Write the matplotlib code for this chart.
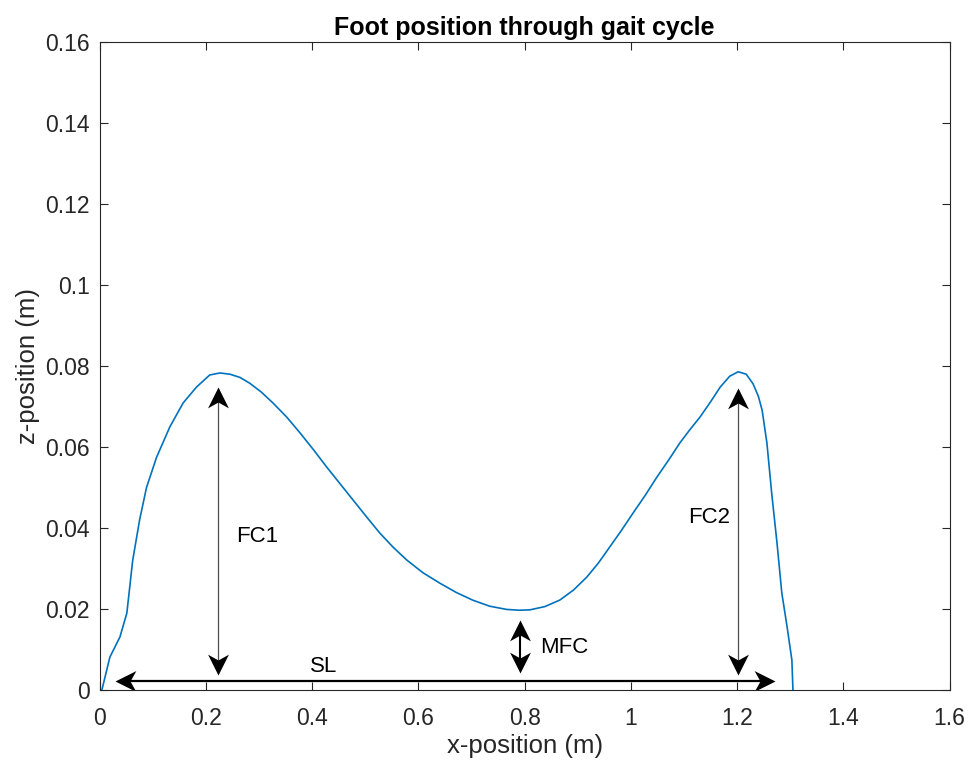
import numpy as np
import matplotlib
matplotlib.use('Agg')
from matplotlib import pyplot as plt
from matplotlib.path import Path
from matplotlib.transforms import Affine2D

plt.rcParams['font.family'] = ['Liberation Sans', 'DejaVu Sans']

# foot trajectory (x, z in m)
x_pos = [0.0, 0.004, 0.019, 0.038, 0.051, 0.062, 0.075, 0.088, 0.107, 0.132,
         0.157, 0.182, 0.207, 0.226, 0.245, 0.264, 0.282, 0.304, 0.326, 0.352,
         0.377, 0.402, 0.427, 0.452, 0.477, 0.502, 0.527, 0.552, 0.578, 0.608,
         0.640, 0.671, 0.702, 0.734, 0.766, 0.790, 0.81, 0.838, 0.866, 0.892,
         0.917, 0.939, 0.960, 0.982, 1.004, 1.027, 1.049, 1.071, 1.092, 1.111,
         1.130, 1.150, 1.168, 1.186, 1.202, 1.217, 1.230, 1.240, 1.247, 1.256,
         1.265, 1.275, 1.284, 1.294, 1.303, 1.305]
z_pos = [0.0, 0.0, 0.0081, 0.0131, 0.0190, 0.0320, 0.0420, 0.0500, 0.0575, 0.0650,
         0.0709, 0.0748, 0.0778, 0.0783, 0.0780, 0.0772, 0.0758, 0.0736, 0.0709, 0.0674,
         0.0635, 0.0594, 0.0551, 0.0510, 0.0469, 0.0428, 0.0388, 0.0353, 0.0321, 0.0290,
         0.0264, 0.0241, 0.0222, 0.0207, 0.0199, 0.0197, 0.0198, 0.0206, 0.0222, 0.0247,
         0.0279, 0.0314, 0.0353, 0.0394, 0.0437, 0.0481, 0.0526, 0.0568, 0.0610, 0.0643,
         0.0674, 0.0712, 0.0748, 0.0775, 0.0786, 0.0780, 0.0756, 0.0725, 0.0691, 0.0610,
         0.0486, 0.0363, 0.0240, 0.0156, 0.0074, 0.0]

# vertical double arrows
vert_labels = ['FC1', 'MFC', 'FC2']
vert_x = [0.223, 0.791, 1.201]
vert_lo = [0.0037, 0.0042, 0.0038]
vert_hi = [0.0748, 0.0173, 0.0746]
vert_text_x = [0.256, 0.829, 1.107]
vert_text_z = [0.0378, 0.0106, 0.0427]

# stride length arrow
sl_x = [0.028, 1.271]
sl_z = 0.0023
sl_text_x = 0.395
sl_text_z = 0.0057

gray = '#262626'

# stealth style arrow head, tip at origin, pointing to +x
head = np.array([[0, 0], [-1, 0.5], [-0.72, 0], [-1, -0.5], [0, 0]])
codes = [Path.MOVETO, Path.LINETO, Path.LINETO, Path.LINETO, Path.CLOSEPOLY]
head_size = 30


def head_marker(angle):
    verts = Affine2D().rotate_deg(angle).transform(head)
    return Path(verts, codes)


fig = plt.figure(figsize=(9.78, 7.67), dpi=100)
ax = fig.add_axes([0.102, 0.1004, 0.869, 0.8446])

ax.plot(x_pos, z_pos, color='#0072BD', linewidth=1.2)

for lab, xv, lo, hi, tx, tz in zip(vert_labels, vert_x, vert_lo, vert_hi, vert_text_x, vert_text_z):
    if lab == 'MFC':
        lw, lc = 1.5, 'black'
    else:
        lw, lc = 0.9, '#4d4d4d'
    ax.plot([xv, xv], [lo + 0.003, hi - 0.003], color=lc, linewidth=lw)
    ax.plot([xv], [hi], marker=head_marker(90), markersize=head_size, color='black', mew=0)
    ax.plot([xv], [lo], marker=head_marker(-90), markersize=head_size, color='black', mew=0)
    ax.text(tx, tz, lab, fontsize=16, va='center', ha='left', color='black')

ax.plot([sl_x[0] + 0.02, sl_x[1] - 0.02], [sl_z, sl_z], color='black', linewidth=1.6)
ax.plot([sl_x[0]], [sl_z], marker=head_marker(180), markersize=head_size, color='black', mew=0)
ax.plot([sl_x[1]], [sl_z], marker=head_marker(0), markersize=head_size, color='black', mew=0)
ax.text(sl_text_x, sl_text_z, 'SL', fontsize=16, va='center', ha='left', color='black')

ax.set_xlim(0, 1.6)
ax.set_ylim(0, 0.16)
ax.set_xticks(np.arange(0, 1.61, 0.2))
ax.set_xticklabels(['0', '0.2', '0.4', '0.6', '0.8', '1', '1.2', '1.4', '1.6'])
ax.set_yticks(np.arange(0, 0.161, 0.02))
ax.set_yticklabels(['0', '0.02', '0.04', '0.06', '0.08', '0.1', '0.12', '0.14', '0.16'])
ax.tick_params(direction='in', top=True, right=True, labelsize=16.5, colors=gray,
               length=5.5, width=0.8)
ax.tick_params(axis='x', pad=12)
ax.tick_params(axis='y', pad=7)
for sp in ax.spines.values():
    sp.set_color(gray)
    sp.set_linewidth(0.8)
ax.set_xlabel('x-position (m)', fontsize=18.5, color=gray, labelpad=3)
ax.set_ylabel('z-position (m)', fontsize=18.5, color=gray, labelpad=4)
ax.set_title('Foot position through gait cycle', fontsize=18, fontweight='bold', pad=5)

plt.savefig('out.png')
